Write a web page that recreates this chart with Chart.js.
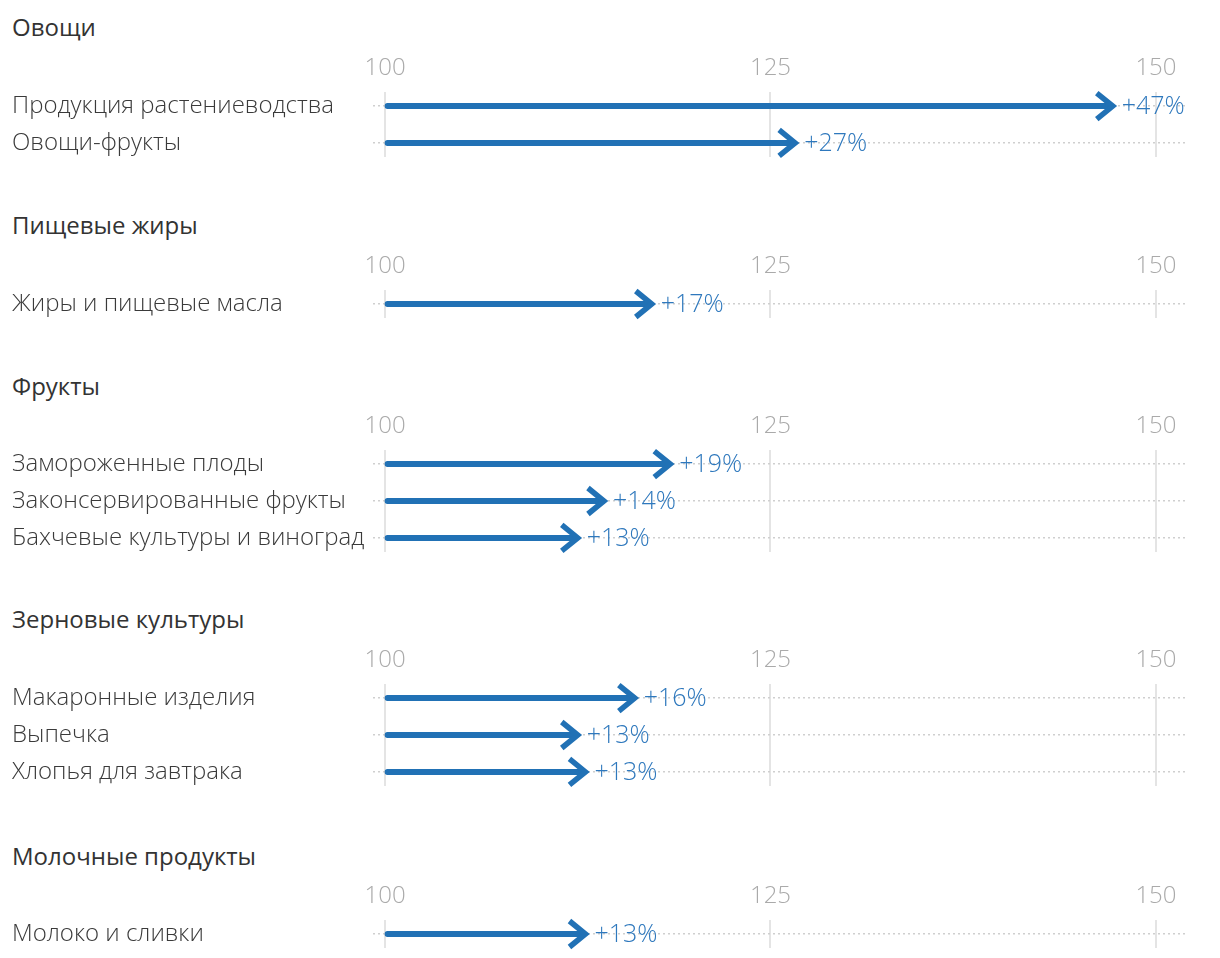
<!DOCTYPE html>
<html>
<head>
<meta charset="utf-8">
<script src="https://cdn.jsdelivr.net/npm/chart.js@4"></script>
<style>
  body { margin: 0; background: #fff; width: 1220px; height: 958px; position: relative; overflow: hidden; font-family: "Open Sans", sans-serif; }
  .title { position: absolute; left: 12px; font-size: 24px; line-height: 30px; color: #333; white-space: nowrap; }
  .box { position: absolute; left: 0; width: 1220px; }
</style>
</head>
<body>
<script>
// group titles and rows
const groupTitles = ['Овощи', 'Пищевые жиры', 'Фрукты', 'Зерновые культуры', 'Молочные продукты'];
const rowLabels = [
    ['Продукция растениеводства', 'Овощи-фрукты'],
    ['Жиры и пищевые масла'],
    ['Замороженные плоды', 'Законсервированные фрукты', 'Бахчевые культуры и виноград'],
    ['Макаронные изделия', 'Выпечка', 'Хлопья для завтрака'],
    ['Молоко и сливки']
];
// index values, 100 = base
const indexValues = [
    [147.2, 126.6],
    [117.3],
    [118.5, 114.2, 112.5],
    [116.2, 112.5, 113.0],
    [113.0]
];
const xTicks = [100, 125, 150];
const baseValue = 100;

// layout per group (px)
const titleTops = [12, 210, 371, 604, 841];
const boxTops = [52, 250, 410, 644, 880];

const BLUE = '#2171b5';
const ROW = 37;
const AXIS_H = 40;

const arrowPlugin = {
    id: 'arrows',
    afterDatasetsDraw(chart) {
        const ctx = chart.ctx;
        const meta = chart.getDatasetMeta(0);
        const vals = chart.data.datasets[0].data;
        ctx.save();
        meta.data.forEach((bar, i) => {
            const x = bar.x;
            const y = bar.y;
            ctx.strokeStyle = BLUE;
            ctx.lineWidth = 5.5;
            ctx.lineJoin = 'miter';
            ctx.lineCap = 'butt';
            ctx.beginPath();
            ctx.moveTo(x - 16, y - 13);
            ctx.lineTo(x, y);
            ctx.lineTo(x - 16, y + 13);
            ctx.stroke();
            const pct = Math.round(vals[i].x[1] - baseValue);
            ctx.fillStyle = '#2e78bd';
            ctx.font = '300 25px "Open Sans"';
            ctx.textBaseline = 'middle';
            ctx.textAlign = 'left';
            ctx.fillText('+' + pct + '%', x + 9, y + 1);
        });
        ctx.restore();
    }
};

groupTitles.forEach((t, g) => {
    const title = document.createElement('div');
    title.className = 'title';
    title.style.top = titleTops[g] + 'px';
    title.textContent = t;
    document.body.appendChild(title);

    const n = rowLabels[g].length;
    const h = (n - 1) * ROW + 28;
    const box = document.createElement('div');
    box.className = 'box';
    box.style.top = boxTops[g] + 'px';
    box.style.height = (AXIS_H + h + 6) + 'px';
    const canvas = document.createElement('canvas');
    box.appendChild(canvas);
    document.body.appendChild(box);

    const labels = rowLabels[g];
    new Chart(canvas, {
        type: 'bar',
        data: {
            datasets: [{
                data: indexValues[g].map((v, i) => ({ x: [baseValue, v], y: i })),
                backgroundColor: BLUE,
                barThickness: 5.5,
                borderSkipped: false,
                borderRadius: { topLeft: 3, bottomLeft: 3, topRight: 0, bottomRight: 0 }
            }]
        },
        options: {
            indexAxis: 'y',
            responsive: true,
            maintainAspectRatio: false,
            animation: false,
            layout: { padding: { left: 12, right: 32, top: 0, bottom: 6 } },
            plugins: { legend: { display: false }, tooltip: { enabled: false } },
            scales: {
                x: {
                    type: 'linear',
                    position: 'top',
                    min: 99.22,
                    max: 152.08,
                    afterBuildTicks: (s) => { s.ticks = xTicks.map(v => ({ value: v })); },
                    afterFit: (s) => { s.height = AXIS_H; },
                    grid: { color: '#e4e4e4', lineWidth: 2, drawTicks: false },
                    border: { display: false },
                    ticks: { color: '#aaa', padding: 9, font: { family: 'Open Sans', size: 24, weight: 300 } }
                },
                y: {
                    type: 'linear',
                    reverse: true,
                    offset: false,
                    min: -0.38,
                    max: n - 1 + 0.38,
                    afterBuildTicks: (s) => { s.ticks = labels.map((_, i) => ({ value: i })); },
                    afterFit: (s) => { s.width = 361; },
                    grid: { offset: false, color: '#cfcfcf', lineWidth: 1.5, drawTicks: false },
                    border: { display: false, dash: [2, 3] },
                    ticks: {
                        crossAlign: 'far',
                        color: '#3a3a3a',
                        padding: 0,
                        font: { family: 'Open Sans', size: 24, weight: 300, lineHeight: 0.5 },
                        callback: (v) => labels[v]
                    }
                }
            }
        },
        plugins: [arrowPlugin]
    });
});
</script>
</body>
</html>
